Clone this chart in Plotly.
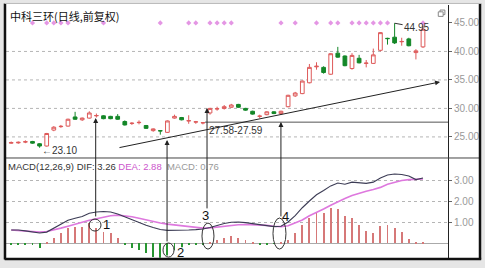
import plotly.graph_objects as go

# ---------------- data ----------------
IDX = list(range(59))
OPEN  = [23.9, 23.95, 24.1, 24.2, 23.8, 23.4, 26.2, 26.8, 26.9, 28.5,
         28.0, 28.3, 28.7, 28.7, 28.6, 28.6, 27.7, 27.35, 27.5, 27.0,
         26.1, 26.1, 25.8, 28.3, 28.4, 27.8, 27.6, 27.45, 29.2, 29.9,
         30.0, 30.2, 30.7, 30.0, 29.5, 28.6, 28.9, 29.4, 29.1, 30.3,
         32.2, 32.6, 34.5, 37.3, 37.2, 36.0, 39.7, 39.2, 37.0, 38.8,
         37.9, 37.9, 40.2, 42.3, 42.5, 41.7, 42.2, 39.8, 40.8]
HIGH  = [24.2, 24.2, 24.4, 24.3, 23.9, 25.7, 26.9, 27.1, 28.2, 29.4,
         28.4, 29.5, 29.1, 28.8, 28.7, 29.0, 27.9, 27.6, 27.9, 27.1,
         26.5, 26.2, 27.9, 28.9, 28.5, 28.8, 27.8, 27.58, 30.1, 30.3,
         30.6, 30.8, 30.8, 30.1, 29.6, 28.9, 29.5, 29.5, 29.6, 32.4,
         32.9, 34.9, 37.8, 38.1, 37.4, 39.7, 40.8, 39.3, 39.7, 39.4,
         38.5, 40.5, 43.4, 42.4, 44.95, 42.4, 42.4, 40.4, 44.6]
LOW   = [23.8, 23.8, 23.9, 23.8, 23.1, 23.3, 26.0, 26.6, 26.8, 28.0,
         27.8, 28.2, 28.4, 28.1, 28.1, 28.0, 27.0, 27.1, 27.2, 26.4,
         25.9, 25.4, 25.7, 28.2, 27.9, 27.3, 27.3, 27.2, 28.9, 29.6,
         29.8, 30.1, 30.1, 29.6, 28.9, 28.3, 28.8, 29.0, 28.9, 30.2,
         32.0, 32.5, 34.4, 36.8, 36.1, 35.9, 38.9, 37.4, 36.8, 37.9,
         37.2, 37.8, 40.0, 41.2, 41.3, 41.0, 40.9, 38.6, 40.6]
CLOSE = [24.0, 24.05, 24.15, 23.9, 23.4, 25.6, 26.7, 26.85, 28.1, 28.1,
         28.3, 29.2, 28.75, 28.2, 28.2, 28.1, 27.1, 27.4, 27.55, 26.5,
         26.4, 26.05, 27.8, 28.6, 28.0, 27.85, 27.65, 27.5, 30.0, 29.95,
         30.3, 30.6, 30.2, 29.7, 29.0, 28.65, 29.4, 29.1, 29.5, 32.3,
         32.7, 34.8, 37.2, 37.4, 36.3, 39.6, 39.0, 37.5, 39.3, 38.0,
         37.95, 39.4, 43.3, 42.25, 41.5, 41.75, 41.0, 40.1, 43.9]

DIF = [0.62, 0.62, 0.58, 0.52, 0.48, 0.52, 0.70, 0.90, 1.08, 1.18,
       1.26, 1.42, 1.48, 1.50, 1.48, 1.38, 1.24, 1.12, 0.98, 0.85,
       0.74, 0.64, 0.60, 0.60, 0.62, 0.62, 0.64, 0.67, 0.74, 0.84,
       0.93, 0.99, 1.00, 0.97, 0.92, 0.86, 0.82, 0.78, 0.80, 1.00,
       1.30, 1.68, 2.00, 2.30, 2.50, 2.72, 2.86, 2.80, 2.90, 2.88,
       2.84, 2.90, 3.10, 3.24, 3.29, 3.26, 3.19, 3.02, 3.10]
DEA = [0.62, 0.60, 0.57, 0.54, 0.52, 0.55, 0.62, 0.71, 0.80, 0.90,
       1.00, 1.08, 1.16, 1.24, 1.30, 1.33, 1.30, 1.25, 1.18, 1.10,
       1.02, 0.95, 0.90, 0.86, 0.82, 0.78, 0.74, 0.71, 0.72, 0.76,
       0.80, 0.84, 0.87, 0.88, 0.87, 0.86, 0.84, 0.80, 0.78, 0.82,
       0.95, 1.10, 1.30, 1.45, 1.62, 1.80, 1.98, 2.12, 2.26, 2.38,
       2.47, 2.55, 2.65, 2.80, 2.90, 2.98, 3.02, 3.02, 3.05]
MACD = [-0.05, -0.08, -0.10, -0.10, -0.24, 0.03, 0.24, 0.48, 0.71, 0.76,
        0.76, 0.95, 0.71, 0.52, 0.48, 0.24, -0.05, -0.24, -0.33, -0.48,
        -0.67, -0.70, -0.60, -0.35, -0.20, -0.10, -0.10, -0.05, 0.05, 0.14,
        0.24, 0.33, 0.24, 0.14, 0.03, -0.05, -0.05, -0.03, 0.03, 0.14,
        0.48, 0.86, 1.19, 1.48, 1.43, 1.67, 1.62, 1.29, 1.19, 0.86,
        0.57, 0.48, 0.81, 0.86, 0.71, 0.52, 0.19, 0.01, 0.05]

SIGNAL_IDX = [3, 5, 6, 7, 8, 13, 21, 25, 26, 28, 29, 30, 31, 38, 40, 43,
              45, 46, 48, 49, 50, 51, 52, 53, 58]
SIGNAL_LEVEL = 45.0

PRICE_TICKS = [25, 30, 35, 40, 45]
PRICE_GRID = [25, 30, 35, 40]
MACD_TICKS = [1, 2, 3]

TITLE = "中科三环(日线,前复权)"
HIGH_LABEL = "44.95"
LOW_LABEL = "←23.10"
GAP_LABEL = "27.58-27.59"
GAP_LEVEL = 27.59

# ---------------- style / layout ----------------
RED = "rgb(222,90,90)"
GREEN = "rgb(20,135,40)"
BAR_RED = "rgb(214,120,120)"
BAR_GREEN = "rgb(40,150,50)"
DIF_COLOR = "rgb(60,60,85)"
DEA_COLOR = "rgb(222,120,222)"
FONT = "Liberation Sans, Arial, sans-serif"

X_RANGE = [-0.732, 61.52]
PRICE_RANGE = [21.3, 48.15]
MACD_RANGE = [-0.714, 4.05]
SPLIT = 0.3953

fig = go.Figure()

fig.add_trace(go.Candlestick(
    x=IDX, open=OPEN, high=HIGH, low=LOW, close=CLOSE,
    increasing=dict(line=dict(color=RED, width=1), fillcolor="white"),
    decreasing=dict(line=dict(color=GREEN, width=1), fillcolor=GREEN),
    whiskerwidth=0, hoverinfo="skip", xaxis="x", yaxis="y", showlegend=False))

fig.add_trace(go.Scatter(
    x=SIGNAL_IDX, y=[SIGNAL_LEVEL] * len(SIGNAL_IDX), mode="markers",
    marker=dict(symbol="diamond", size=4, color="rgb(228,150,228)"),
    xaxis="x", yaxis="y", showlegend=False, hoverinfo="skip"))

bar_colors = [BAR_RED if v >= 0 else BAR_GREEN for v in MACD]
fig.add_trace(go.Bar(
    x=IDX, y=MACD, width=0.14, marker=dict(color=bar_colors, line=dict(width=0)),
    xaxis="x", yaxis="y2", showlegend=False, hoverinfo="skip"))
fig.add_trace(go.Scatter(
    x=IDX, y=DEA, mode="lines", line=dict(color=DEA_COLOR, width=1.6),
    xaxis="x", yaxis="y2", showlegend=False, hoverinfo="skip"))
fig.add_trace(go.Scatter(
    x=IDX, y=DIF, mode="lines", line=dict(color=DIF_COLOR, width=1.1),
    xaxis="x", yaxis="y2", showlegend=False, hoverinfo="skip"))

shapes = []
# paper frame
shapes.append(dict(type="rect", xref="paper", yref="paper", x0=-0.003, x1=1.0724,
                   y0=-0.004, y1=1.006, fillcolor="white", line=dict(width=0), layer="below"))
for g in PRICE_GRID:
    shapes.append(dict(type="line", xref="paper", yref="y", x0=0, x1=1, y0=g, y1=g,
                       line=dict(color="#b5b5b5", width=1, dash="dot"), layer="below"))
shapes.append(dict(type="line", xref="x", yref="y", x0=27.3, x1=X_RANGE[1],
                   y0=GAP_LEVEL, y1=GAP_LEVEL, line=dict(color="#555", width=1)))
shapes.append(dict(type="line", xref="paper", yref="paper", x0=-0.003, x1=1.0724,
                   y0=SPLIT, y1=SPLIT, line=dict(color="#444", width=1)))
# frame lines
shapes.append(dict(type="line", xref="paper", yref="paper", x0=-0.0023, x1=-0.0023,
                   y0=-0.006, y1=1.006, line=dict(color="#111", width=2.5)))
shapes.append(dict(type="line", xref="paper", yref="paper", x0=1.0724, x1=1.0724,
                   y0=-0.006, y1=1.006, line=dict(color="#111", width=2.5)))
shapes.append(dict(type="line", xref="paper", yref="paper", x0=-0.003, x1=1.075,
                   y0=-0.004, y1=-0.004, line=dict(color="#111", width=2.5)))
shapes.append(dict(type="line", xref="paper", yref="paper", x0=-0.003, x1=1.075,
                   y0=1.006, y1=1.006, line=dict(color="#bbb", width=1)))
# small window icon
shapes.append(dict(type="rect", xref="paper", yref="paper", x0=0.982, x1=0.993,
                   y0=0.962, y1=0.980, line=dict(color="#888", width=1)))
shapes.append(dict(type="rect", xref="paper", yref="paper", x0=0.978, x1=0.989,
                   y0=0.955, y1=0.973, fillcolor="white", line=dict(color="#888", width=1)))
# circles / ellipses in MACD panel
for (xa, xb, ya, yb) in [(10.96, 12.65, 0.57, 1.14), (21.38, 22.93, -0.67, 0.0),
                         (26.87, 28.56, -0.29, 0.95), (36.87, 38.7, -0.29, 1.19)]:
    shapes.append(dict(type="circle", xref="x", yref="y2", x0=xa, x1=xb, y0=ya, y1=yb,
                       line=dict(color="#333", width=1)))

ann = []
ann.append(dict(text=TITLE, xref="paper", yref="paper", x=0, y=1, xanchor="left",
                yanchor="top", xshift=2, yshift=-1, showarrow=False,
                font=dict(family="Noto Sans CJK SC", size=11, color="#111")))
ann.append(dict(text='<span style="color:#333">MACD(12,26,9) DIF: 3.26</span> '
                     '<span style="color:#cc55cc">DEA: 2.88</span>  '
                     '<span style="color:#999">MACD: 0.76</span>',
                xref="paper", yref="paper", x=0, y=SPLIT, xanchor="left", yanchor="top",
                xshift=0, yshift=-1, showarrow=False, font=dict(family=FONT, size=9.5)))
ann.append(dict(text=HIGH_LABEL, xref="x", yref="y", x=54, y=44.95, ax=22, ay=4,
                showarrow=True, arrowhead=0, arrowwidth=1, arrowcolor="#333",
                font=dict(family=FONT, size=10, color="#333")))
ann.append(dict(text=LOW_LABEL, xref="x", yref="y", x=4, y=23.10, xanchor="left",
                yanchor="middle", yshift=-3, showarrow=False,
                font=dict(family=FONT, size=10, color="#333")))
ann.append(dict(text=GAP_LABEL, xref="x", yref="y", x=27.6, y=GAP_LEVEL, xanchor="left",
                yanchor="top", yshift=-1, showarrow=False,
                font=dict(family=FONT, size=10, color="#333")))
# trend line with arrow
ann.append(dict(text="", xref="x", yref="y", axref="x", ayref="y", x=60.4, y=34.65,
                ax=15.04, ay=23.07, showarrow=True, arrowhead=2, arrowsize=1,
                arrowwidth=1, arrowcolor="#222", standoff=0))
# vertical arrows from MACD panel
for (xv, yv, dy) in [(11.9, 28.33, 100), (21.95, 24.47, 103), (27.58, 30.09, 102),
                     (37.99, 27.63, 96)]:
    ann.append(dict(text="", xref="x", yref="y", x=xv, y=yv, ax=0, ay=dy,
                    showarrow=True, arrowhead=2, arrowsize=1, arrowwidth=1,
                    arrowcolor="#222", standoff=0))
for (lab, xv, yv) in [("1", 13.4, 0.86), ("2", 23.8, -0.43), ("3", 27.4, 1.29),
                      ("4", 38.7, 1.24)]:
    ann.append(dict(text=lab, xref="x", yref="y2", x=xv, y=yv, showarrow=False,
                    font=dict(family=FONT, size=13, color="#111")))

fig.update_layout(
    width=485, height=268,
    margin=dict(l=6, r=37, t=5, b=10),
    paper_bgcolor="#e6e6e6", plot_bgcolor="white",
    showlegend=False, boxgap=0.25,
    xaxis=dict(domain=[0, 1], range=X_RANGE, visible=False, rangeslider=dict(visible=False),
               anchor="y2"),
    yaxis=dict(domain=[SPLIT, 1], range=PRICE_RANGE, side="right", anchor="x",
               tickvals=PRICE_TICKS, tickformat=".2f", showgrid=False, zeroline=False,
               showline=True, linecolor="#222", linewidth=1, ticks="outside", ticklen=3,
               tickcolor="#666", tickfont=dict(family=FONT, size=10, color="#999")),
    yaxis2=dict(domain=[0, SPLIT], range=MACD_RANGE, side="right", anchor="x",
                tickvals=MACD_TICKS, tickformat=".2f", showgrid=True, gridcolor="#b5b5b5",
                griddash="dot", zeroline=True, zerolinecolor="#aaa", zerolinewidth=1,
                showline=True, linecolor="#222", linewidth=1, ticks="outside", ticklen=3,
                tickcolor="#666", tickfont=dict(family=FONT, size=10, color="#999")),
    shapes=shapes, annotations=ann,
)

fig.write_html("out.html")
